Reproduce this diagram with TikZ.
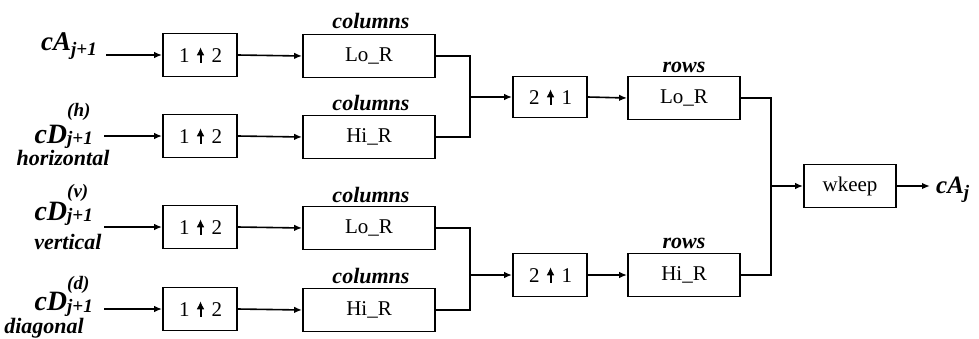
\documentclass[tikz,border=0pt]{standalone}
\usepackage{fontspec}
\setmainfont{Liberation Serif}
\usetikzlibrary{arrows.meta}
\newcommand{\boxfont}{\fontsize{21}{23}\selectfont}
\newcommand{\lblfont}{\fontsize{22}{24}\selectfont\bfseries\itshape}
\newcommand{\scfont}{\fontsize{19}{21}\selectfont\bfseries\itshape}
\newcommand{\upar}{\tikz[baseline=0pt]\draw[line width=2pt,-{Latex[length=8pt,width=8pt]}] (0pt,-0.5pt) -- (0pt,15pt);}
\newcommand{\updn}[2]{\hspace{1pt}#1\hspace{7pt}\upar\hspace{7pt}#2}
% #1 size, #2 main, #3 sup, #4 raise, #5 sub, #6 lower
\newcommand{\sig}[6]{{\fontsize{#1}{#1}\selectfont\bfseries\itshape #2}\makebox[0pt][l]{\raisebox{#4}{\scfont #3}}\raisebox{-#6}{\scfont #5}}
\begin{document}
\begin{tikzpicture}[x=1pt,y=-1pt,
  blk/.style={draw,line width=1.8pt,minimum height=43pt,inner sep=0pt,font=\boxfont},
  upbox/.style={blk,minimum width=74pt},
  colbox/.style={blk,minimum width=132pt},
  rowbox/.style={blk,minimum width=112pt},
  keepbox/.style={blk,minimum width=92pt},
  lbl/.style={inner sep=0pt,font=\lblfont},
  sg/.style={inner sep=0pt,anchor=base east},
  conn/.style={line width=1.6pt},
  arr/.style={conn,-{Latex[length=8pt,width=6.5pt]}}]
\useasboundingbox (0,0) rectangle (979,338);
% inputs
\node[sg] (i1) at (97,50) {\sig{27pt}{cA}{}{0pt}{j+1}{5pt}};
\node[sg] (i2) at (93,143) {\sig{28pt}{cD}{(h)}{27pt}{j+1}{1pt}};
\node[lbl] (t2) at (63,158) {horizontal};
\node[sg] (i3) at (93,220) {\sig{28pt}{cD}{(v)}{23pt}{j+1}{1pt}};
\node[lbl] (t3) at (68,242) {vertical};
\node[sg] (i4) at (93,310) {\sig{28pt}{cD}{(d)}{21pt}{j+1}{2pt}};
\node[lbl] (t4) at (44,328) {diagonal};
% upsample
\node[upbox] (u1) at (200,55) {\updn{1}{2}};
\node[upbox] (u2) at (200,136) {\updn{1}{2}};
\node[upbox] (u3) at (200,227) {\updn{1}{2}};
\node[upbox] (u4) at (200,309) {\updn{1}{2}};
% column filters
\node[colbox] (c1) at (369,56) {Lo\_R};
\node[colbox] (c2) at (369,137) {Hi\_R};
\node[colbox] (c3) at (369,228) {Lo\_R};
\node[colbox] (c4) at (369,310) {Hi\_R};
\node[lbl,anchor=base] (l1) at (371,28) {columns};
\node[lbl,anchor=base] (l2) at (371,110) {columns};
\node[lbl,anchor=base] (l3) at (371,202) {columns};
\node[lbl,anchor=base] (l4) at (371,283) {columns};
% downsample
\node[upbox,minimum height=41pt] (d1) at (550,97) {\updn{2}{1}};
\node[upbox,minimum height=43pt] (d2) at (550,275) {\updn{2}{1}};
% row filters
\node[rowbox] (r1) at (684,98) {Lo\_R};
\node[rowbox] (r2) at (684,275) {Hi\_R};
\node[lbl,anchor=base] (l5) at (684,72) {rows};
\node[lbl,anchor=base] (l6) at (684,248) {rows};
% keep
\node[keepbox] (k) at (850,186) {wkeep};
\node[anchor=base west,inner sep=0pt] (o) at (936,193) {\sig{25pt}{cA}{}{0pt}{j}{5pt}};
% junctions
\coordinate (j1) at (470,97);
\coordinate (j2) at (470,275);
\coordinate (j3) at (771,186);
\coordinate (s1) at (106,55);
\coordinate (s2) at (104,136);
\coordinate (s3) at (104,227);
\coordinate (s4) at (104,309);
\coordinate (e0) at (930,186);
% connectors
\foreach \a/\b in {s1/u1,s2/u2,s3/u3,s4/u4}
  \draw[arr] (\a) -- (\b.west);
\foreach \a/\b in {u1/c1,u2/c2,u3/c3,u4/c4}
  \draw[arr] (\a.east) -- (\b.west);
\draw[conn] (c1.east) -| (j1) |- (c2.east);
\draw[conn] (c3.east) -| (j2) |- (c4.east);
\draw[arr] (j1) -- (d1.west);
\draw[arr] (j2) -- (d2.west);
\draw[arr] (d1.east) -- (r1.west);
\draw[arr] (d2.east) -- (r2.west);
\draw[conn] (r1.east) -| (j3) |- (r2.east);
\draw[arr] (j3) -- (k.west);
\draw[arr] (k.east) -- (e0);
\end{tikzpicture}
\end{document}
